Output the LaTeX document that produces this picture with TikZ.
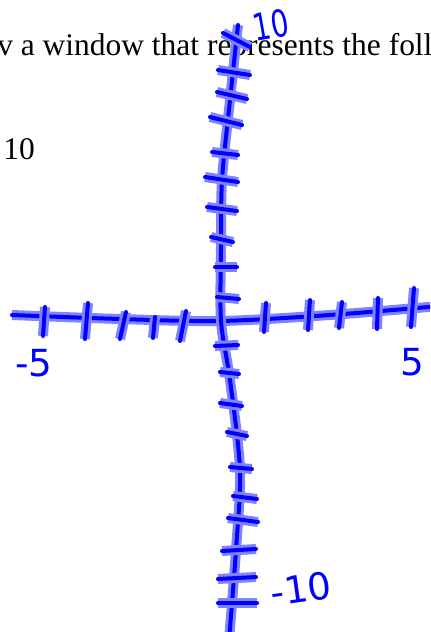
\documentclass[tikz,border=0pt]{standalone}
\usepackage{fontspec}
\setmainfont{Liberation Serif}
\newfontfamily\handfont{DejaVu Sans}
\definecolor{inkblue}{RGB}{0,0,255}
\definecolor{haloblue}{RGB}{130,130,255}
\tikzset{
  pen/.style={draw=inkblue, line width=3pt, line cap=round, line join=round,
    preaction={draw=haloblue, line width=7.5pt}},
  hand/.style={text=inkblue, inner sep=0pt, font=\handfont\fontsize{28}{28}\selectfont},
  printed/.style={text=black, inner sep=0pt, anchor=base west, font=\fontsize{23.6}{27}\selectfont}
}

\begin{document}
\begin{tikzpicture}[x=0.75pt, y=-0.75pt]

        \useasboundingbox (0,0) rectangle (430,632);
        \clip (0,0) rectangle (430,632);

        %printed text
        \node[printed] (question) at (-3,55) {v a window that represents the following};
        \node[printed] (ymax) at (3,159) {10};

        %axes
        \draw[pen] plot[smooth] coordinates {(12,315) (120,319) (220,321) (330,315) (440,306)};
        \draw[pen] plot[smooth] coordinates {(238,25) (230,100) (222,180) (221,250) (221,321) (230,380) (240,470) (236,550) (229,640)};

        %ticks on x axis
        \foreach \xa/\ya/\xb/\yb in {45/307/43/336, 88/303/85/339, 126/312/120/339, 155/317/153/338, 186/311/180/341,
                                     266/303/264/332, 310/300/308/330, 342/302/339/328, 378/298/377/329, 414/288/411/327}
            \draw[pen] (\xa,\ya) -- (\xb,\yb);

        %ticks on y axis
        \foreach \xa/\ya/\xb/\yb in {223/33/250/47, 218/70/250/75, 217/92/247/99, 210/117/242/125, 212/152/238/155,
                                     205/177/238/182, 207/207/237/211, 211/237/233/242, 215/267/237/267, 217/297/239/299,
                                     215/346/238/345, 220/372/239/374, 220/403/242/406, 227/432/247/436, 230/467/252/469,
                                     233/496/257/499, 228/518/258/522, 222/551/256/549, 218/579/256/577, 218/603/257/603}
            \draw[pen] (\xa,\ya) -- (\xb,\yb);

        %labels
        \node[hand, rotate=10, xscale=0.75, font=\handfont\fontsize{28}{28}\selectfont] (top) at (271,25) {10};
        \node[hand] (left) at (34,363) {-5};
        \node[hand] (right) at (412,362) {5};
        \node[hand, rotate=8] (bottom) at (301,589) {-10};

\end{tikzpicture}
\end{document}
